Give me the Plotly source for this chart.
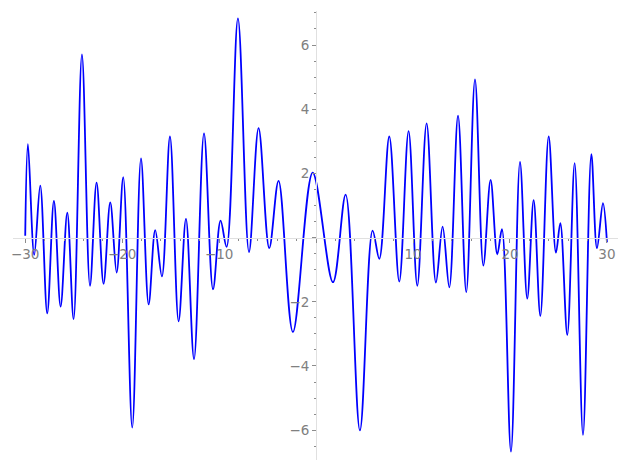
import plotly.graph_objects as go

# extrema (and end points)
x_vals = [-30.0, -29.72, -29.07, -28.45, -27.73, -27.04, -26.35, -25.66, -25.01,
          -24.15, -23.32, -22.64, -21.92, -21.23, -20.57, -19.89, -18.96, -18.06,
          -17.27, -16.59, -15.90, -15.07, -14.18, -13.42, -12.59, -11.56, -10.63,
          -9.85, -9.23, -8.06, -6.92, -5.93, -4.83, -3.87, -2.39, -0.35, 1.74,
          3.05, 4.52, 5.83, 6.52, 7.55, 8.58, 9.54, 10.44, 11.40, 12.36, 13.05,
          13.74, 14.64, 15.49, 16.39, 17.25, 18.00, 18.69, 19.17, 20.10, 21.03,
          21.78, 22.44, 23.13, 23.99, 24.74, 25.19, 25.91, 26.67, 27.53, 28.39,
          28.97, 29.59, 30.0]
y_vals = [0.06, 2.91, -0.54, 1.62, -2.36, 1.14, -2.15, 0.78, -2.54,
          5.71, -1.50, 1.71, -1.44, 1.10, -1.09, 1.88, -5.92, 2.47,
          -2.08, 0.23, -1.21, 3.15, -2.61, 0.58, -3.79, 3.25, -1.61,
          0.53, -0.29, 6.83, -0.45, 3.41, -0.33, 1.77, -2.94, 2.02, -1.39,
          1.34, -6.01, 0.22, -0.66, 3.15, -1.37, 3.32, -1.50, 3.56, -1.40, 0.34,
          -1.55, 3.80, -1.70, 4.93, -0.87, 1.80, -0.52, 0.26, -6.67, 2.36,
          -1.90, 1.17, -2.44, 3.15, -0.47, 0.45, -3.03, 2.32, -6.15, 2.60,
          -0.33, 1.07, -0.15]

x_ticks = [-30, -20, -10, 0, 10, 20, 30]
x_labels = ["\u221230", "\u221220", "\u221210", "", "10", "20", "30"]
y_ticks = [-6, -4, -2, 0, 2, 4, 6]
y_labels = ["\u22126", "\u22124", "\u22122", "", "2", "4", "6"]

x_range = [-31.26, 31.14]
y_range = [-6.93, 7.06]

grey_line = "#e0e0e0"
tick_col = "#8c8c8c"
label_col = "#808080"

fig = go.Figure()
fig.add_trace(go.Scatter(x=x_vals, y=y_vals, mode="lines",
                         line=dict(color="#0000ff", width=1.8, shape="spline", smoothing=1.0),
                         hoverinfo="skip"))

x_pos = (0 - y_range[0]) / (y_range[1] - y_range[0])
y_pos = (0 - x_range[0]) / (x_range[1] - x_range[0])

fig.update_layout(
    width=627, height=470,
    margin=dict(l=13, r=9, t=11, b=10),
    paper_bgcolor="white", plot_bgcolor="white",
    showlegend=False,
    hovermode=False,
    font=dict(family="DejaVu Sans", size=13.5, color=label_col),
    xaxis=dict(range=x_range, anchor="free", position=x_pos, automargin=False,
               showgrid=False, zeroline=False, showline=True, linecolor=grey_line, linewidth=1.2,
               tickmode="array", tickvals=x_ticks, ticktext=x_labels,
               ticks="outside", ticklen=4, tickwidth=1, tickcolor=tick_col,
               minor=dict(dtick=2, tick0=0, ticks="outside", ticklen=2, tickwidth=1, tickcolor=tick_col),
               tickfont=dict(color=label_col)),
    yaxis=dict(range=y_range, anchor="free", position=y_pos, automargin=False,
               showgrid=False, zeroline=False, showline=True, linecolor=grey_line, linewidth=1.2,
               tickmode="array", tickvals=y_ticks, ticktext=y_labels,
               ticks="outside", ticklen=4, tickwidth=1, tickcolor=tick_col,
               minor=dict(dtick=0.5, tick0=0, ticks="outside", ticklen=2, tickwidth=1, tickcolor=tick_col),
               tickfont=dict(color=label_col)),
)

fig.write_html("out.html", config={"displayModeBar": False},
               post_script="document.body.style.margin='0';document.body.style.overflow='hidden';")
